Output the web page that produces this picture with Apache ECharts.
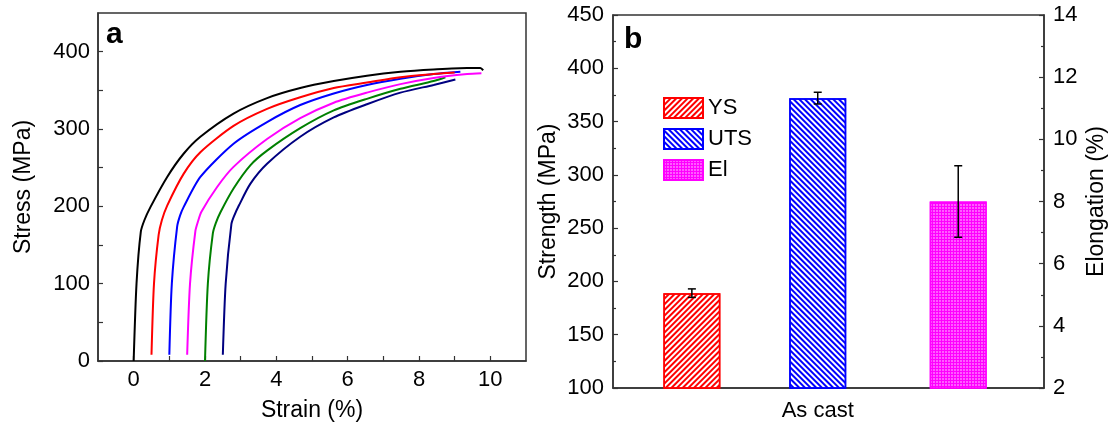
<!DOCTYPE html>
<html>
<head>
<meta charset="utf-8">
<script src="https://cdn.jsdelivr.net/npm/echarts@6/dist/echarts.min.js"></script>
<style>
  html, body { margin: 0; background: #fff; }
  #chart { width: 1111px; height: 427px; }
</style>
</head>
<body>
<div id="chart"></div>
<script>
// panel a: stress-strain curves, [strain %, stress MPa]
const curveColors = ['#000000', '#ff0000', '#0000ff', '#ff00ff', '#008000', '#000080']
const curveBlack = [[0, 0], [0.08, 100], [0.2, 167], [0.3, 182], [0.47, 199], [0.94, 238], [1.4, 268], [1.87, 290], [2.8, 320], [3.74, 340], [4.67, 353], [5.61, 362], [6.54, 369], [7.48, 374], [8.41, 377], [9.35, 379], [9.72, 379], [9.8, 376]]
const curveRed = [[0.5, 8], [0.57, 100], [0.7, 163], [0.79, 182], [0.94, 201], [1.4, 242], [1.87, 270], [2.8, 304], [3.74, 326], [4.67, 341], [5.61, 353], [6.54, 360], [7.48, 367], [8.41, 371], [9.0, 373]]
const curveBlue = [[1.0, 8], [1.07, 100], [1.22, 174], [1.3, 188], [1.4, 199], [1.87, 238], [2.8, 281], [3.74, 309], [4.67, 331], [5.61, 346], [6.54, 357], [7.48, 365], [8.41, 371], [9.16, 374]]
const curveMagenta = [[1.5, 8], [1.58, 100], [1.73, 168], [1.8, 180], [1.9, 193], [2.34, 225], [2.8, 251], [3.74, 287], [4.67, 314], [5.61, 334], [6.54, 347], [7.48, 358], [8.41, 366], [9.35, 371], [9.75, 372]]
const curveGreen = [[2.0, 0], [2.08, 100], [2.22, 165], [2.3, 178], [2.43, 192], [2.8, 223], [3.27, 253], [3.74, 272], [4.67, 301], [5.61, 324], [6.54, 339], [7.48, 352], [8.41, 362], [8.74, 367]]
const curveNavy = [[2.5, 8], [2.58, 100], [2.74, 177], [2.82, 188], [2.95, 201], [3.27, 229], [3.74, 255], [4.67, 290], [5.61, 315], [6.54, 332], [7.48, 347], [8.41, 357], [9.02, 364]]
const curves = [curveBlack, curveRed, curveBlue, curveMagenta, curveGreen, curveNavy]

const strainLabels = [0, 2, 4, 6, 8, 10]
const strainTicks = [0, 1, 2, 3, 4, 5, 6, 7, 8, 9, 10]
const stressLabels = [0, 100, 200, 300, 400]
const stressTicks = [0, 50, 100, 150, 200, 250, 300, 350, 400]

// panel b: mechanical properties
const groupName = 'As cast'
const groupPos = 0.475
const barNames = ['YS', 'UTS', 'El']
const barX = [0.183, 0.475, 0.801]
const barValues = [189, 372, 8.0]
const barErrors = [4, 5.5, 1.15]
const barAxis = [1, 1, 2]   // 1 = strength, 2 = elongation

const font = 'Liberation Sans, Arial, sans-serif'
const axisColor = '#333'

const hatch = [
  {color: '#fff', border: '#ff0000', decal: {symbol: 'rect', symbolSize: 1, dashArrayX: [1, 0], dashArrayY: [2, 2], rotation: -Math.PI / 4, color: '#ff0000'}},
  {color: '#fff', border: '#0000ff', decal: {symbol: 'rect', symbolSize: 1, dashArrayX: [1, 0], dashArrayY: [2, 2], rotation: Math.PI / 4, color: '#0000ff'}},
  {color: '#ff00ff', border: '#ff00ff', decal: {symbol: 'circle', symbolSize: 0.7, dashArrayX: [2, 1], dashArrayY: [2, 1], rotation: 0, color: '#ffffff'}}
]

function axisBase() {
  return {
    axisLine: {onZero: false, lineStyle: {color: axisColor, width: 1.5}},
    axisTick: {inside: true, length: 5, lineStyle: {color: axisColor, width: 1.2}},
    axisLabel: {fontSize: 22, fontFamily: font, color: '#000'},
    nameTextStyle: {fontSize: 23, fontFamily: font, color: '#000'},
    splitLine: {show: false}
  }
}

let myChart = echarts.init(document.getElementById('chart'))

let series = curves.map((c, i) => ({
  type: 'line',
  xAxisIndex: 0,
  yAxisIndex: 0,
  data: c,
  showSymbol: false,
  smooth: 0.25,
  lineStyle: {color: curveColors[i], width: 2},
  itemStyle: {color: curveColors[i]},
  z: 2 + (curves.length - i)
}))

barNames.forEach((name, i) => {
  series.push({
    type: 'bar',
    name: name,
    xAxisIndex: 1,
    yAxisIndex: barAxis[i],
    barWidth: 57,
    barGap: '-100%',
    data: [[barX[i], barValues[i]]],
    itemStyle: {color: hatch[i].color, borderColor: hatch[i].border, borderWidth: 1.5, decal: hatch[i].decal}
  })
})

// error bars
barNames.forEach((name, i) => {
  series.push({
    type: 'custom',
    xAxisIndex: 1,
    yAxisIndex: barAxis[i],
    z: 10,
    data: [[barX[i], barValues[i] - barErrors[i], barValues[i] + barErrors[i]]],
    renderItem: function (params, api) {
      let x = api.value(0)
      let top = api.coord([x, api.value(2)])
      let bot = api.coord([x, api.value(1)])
      let w = 4
      let st = {stroke: '#000', lineWidth: 1.5}
      return {
        type: 'group',
        children: [
          {type: 'line', shape: {x1: top[0], y1: top[1], x2: bot[0], y2: bot[1]}, style: st},
          {type: 'line', shape: {x1: top[0] - w, y1: top[1], x2: top[0] + w, y2: top[1]}, style: st},
          {type: 'line', shape: {x1: bot[0] - w, y1: bot[1], x2: bot[0] + w, y2: bot[1]}, style: st}
        ]
      }
    }
  })
})

myChart.setOption({
  animation: false,
  backgroundColor: '#fff',
  textStyle: {fontFamily: font},
  title: [
    {text: 'a', left: 106, top: 20, padding: 0, textStyle: {fontSize: 30, fontWeight: 'bold', fontFamily: font, color: '#000'}},
    {text: 'b', left: 624, top: 25, padding: 0, textStyle: {fontSize: 30, fontWeight: 'bold', fontFamily: font, color: '#000'}}
  ],
  legend: {
    orient: 'vertical',
    left: 663,
    top: 97,
    padding: 0,
    itemWidth: 39,
    itemHeight: 20,
    itemGap: 9,
    icon: 'rect',
    selectedMode: false,
    data: barNames,
    textStyle: {fontSize: 22, fontFamily: font, color: '#000', lineHeight: 20}
  },
  grid: [
    {left: 98, top: 13, width: 428, height: 348, show: true, borderColor: axisColor, borderWidth: 1.5, backgroundColor: 'transparent'},
    {left: 613, top: 15, width: 431, height: 373, show: true, borderColor: axisColor, borderWidth: 1.5, backgroundColor: 'transparent'}
  ],
  xAxis: [
    Object.assign(axisBase(), {
      gridIndex: 0, type: 'value', min: -1, max: 11,
      name: 'Strain (%)', nameLocation: 'middle', nameGap: 38,
      axisTick: {inside: true, length: 5, customValues: strainTicks, lineStyle: {color: axisColor, width: 1.2}},
      axisLabel: {customValues: strainLabels, margin: 8, fontSize: 22, fontFamily: font, color: '#000'}
    }),
    Object.assign(axisBase(), {
      gridIndex: 1, type: 'value', min: 0, max: 1,
      axisTick: {show: false},
      axisLabel: {customValues: [groupPos], formatter: () => groupName, margin: 12, fontSize: 22, fontFamily: font, color: '#000'}
    })
  ],
  yAxis: [
    Object.assign(axisBase(), {
      gridIndex: 0, type: 'value', min: 0, max: 450,
      name: 'Stress (MPa)', nameLocation: 'middle', nameGap: 63,
      axisTick: {inside: true, length: 5, customValues: stressTicks, lineStyle: {color: axisColor, width: 1.2}},
      axisLabel: {customValues: stressLabels, margin: 8, fontSize: 22, fontFamily: font, color: '#000'}
    }),
    Object.assign(axisBase(), {
      gridIndex: 1, type: 'value', min: 100, max: 450, interval: 50,
      name: 'Strength (MPa)', nameLocation: 'middle', nameGap: 53,
      minorTick: {show: true, splitNumber: 2, length: 3, lineStyle: {color: axisColor, width: 1.2}},
      axisLabel: {margin: 9, fontSize: 22, fontFamily: font, color: '#000'}
    }),
    Object.assign(axisBase(), {
      gridIndex: 1, type: 'value', position: 'right', min: 2, max: 14, interval: 2,
      name: 'Elongation (%)', nameLocation: 'middle', nameGap: 41,
      minorTick: {show: true, splitNumber: 2, length: 3, lineStyle: {color: axisColor, width: 1.2}},
      axisLabel: {margin: 9, fontSize: 22, fontFamily: font, color: '#000'}
    })
  ],
  series: series
})
</script>
</body>
</html>
